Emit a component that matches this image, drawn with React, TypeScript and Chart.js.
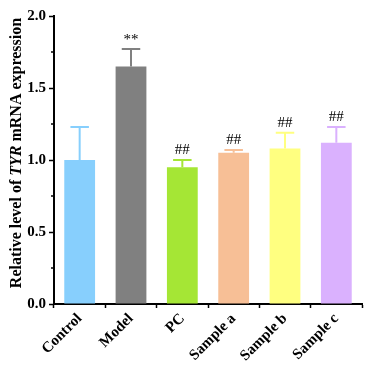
import React, { useEffect, useRef } from "react";
import { Chart, registerables } from "chart.js";

Chart.register(...registerables);

const categories = ["Control", "Model", "PC", "Sample a", "Sample b", "Sample c"];
const means = [1.0, 1.65, 0.95, 1.05, 1.08, 1.12];
const errors = [0.23, 0.12, 0.05, 0.02, 0.11, 0.11];
const marks = ["", "**", "##", "##", "##", "##"];
const colors = ["#87CFFD", "#808080", "#A5E635", "#F7BF96", "#FFFF80", "#DAB1FE"];
const yTicks = [0, 0.5, 1.0, 1.5, 2.0];
const yMinorTicks = [0.25, 0.75, 1.25, 1.75];

const SERIF = "'Liberation Serif', 'Times New Roman', serif";

const errorBarPlugin = {
  id: "errorBars",
  afterDatasetsDraw(chart: any) {
    const ctx = chart.ctx;
    const meta = chart.getDatasetMeta(0);
    const yScale = chart.scales.y;
    meta.data.forEach((bar: any, i: number) => {
      const x = bar.x;
      const yTop = yScale.getPixelForValue(means[i] + errors[i]);
      const yVal = yScale.getPixelForValue(means[i]);
      const capHalf = bar.width * 0.3;
      ctx.save();
      ctx.strokeStyle = colors[i];
      ctx.lineWidth = 2;
      ctx.beginPath();
      ctx.moveTo(x, yVal);
      ctx.lineTo(x, yTop);
      ctx.moveTo(x - capHalf, yTop);
      ctx.lineTo(x + capHalf, yTop);
      ctx.stroke();
      if (marks[i]) {
        ctx.fillStyle = "#000";
        ctx.font = `15px ${SERIF}`;
        ctx.textAlign = "center";
        ctx.textBaseline = "bottom";
        ctx.fillText(marks[i], x, yTop - 2);
      }
      ctx.restore();
    });
  },
};

const axisExtrasPlugin = {
  id: "axisExtras",
  afterDraw(chart: any) {
    const ctx = chart.ctx;
    const yScale = chart.scales.y;
    const left = chart.chartArea.left;
    ctx.save();
    ctx.strokeStyle = "#000";
    ctx.lineWidth = 1.5;
    ctx.beginPath();
    yMinorTicks.forEach((v) => {
      const y = yScale.getPixelForValue(v);
      ctx.moveTo(left - 3, y);
      ctx.lineTo(left, y);
    });
    ctx.stroke();

    // y-axis title with italic gene name
    const parts = [
      { t: "Relative level of ", f: `bold 16px ${SERIF}` },
      { t: "TYR", f: `italic bold 16px ${SERIF}` },
      { t: " mRNA expression", f: `bold 16px ${SERIF}` },
    ];
    let total = 0;
    const widths = parts.map((p) => {
      ctx.font = p.f;
      const w = ctx.measureText(p.t).width;
      total += w;
      return w;
    });
    ctx.translate(17, 153);
    ctx.rotate(-Math.PI / 2);
    ctx.fillStyle = "#000";
    ctx.textBaseline = "middle";
    ctx.textAlign = "left";
    let x = -total / 2;
    parts.forEach((p, i) => {
      ctx.font = p.f;
      ctx.fillText(p.t, x, 0);
      x += widths[i];
    });
    ctx.restore();
  },
};

export default function App() {
  const ref = useRef<HTMLCanvasElement>(null);
  useEffect(() => {
    document.body.style.margin = "0";
    const chart = new Chart(ref.current as HTMLCanvasElement, {
      type: "bar",
      data: {
        labels: categories,
        datasets: [
          {
            data: means,
            backgroundColor: colors,
            borderWidth: 0,
            barPercentage: 0.6,
            categoryPercentage: 1,
          },
        ],
      },
      options: {
        responsive: false,
        animation: false,
        devicePixelRatio: 1,
        layout: { padding: { top: 16, right: 3, left: 0, bottom: 0 } },
        plugins: { legend: { display: false }, tooltip: { enabled: false }, title: { display: false } },
        scales: {
          x: {
            afterFit: (s: any) => {
              s.height = 72;
            },
            grid: {
              display: true,
              drawOnChartArea: false,
              drawTicks: true,
              tickLength: 4,
              tickWidth: 1.5,
              tickColor: "#000",
            },
            border: { display: true, color: "#000", width: 2 },
            ticks: {
              maxRotation: 45,
              minRotation: 45,
              color: "#000",
              padding: 2,
              font: { family: SERIF, size: 15, weight: "bold" },
            },
          },
          y: {
            min: 0,
            max: 2,
            afterFit: (s: any) => {
              s.width = 54;
            },
            afterBuildTicks: (s: any) => {
              s.ticks = yTicks.map((v) => ({ value: v }));
            },
            grid: {
              display: true,
              drawOnChartArea: false,
              drawTicks: true,
              tickLength: 5,
              tickWidth: 1.5,
              tickColor: "#000",
            },
            border: { display: true, color: "#000", width: 2 },
            ticks: {
              color: "#000",
              padding: 3,
              callback: (v: any) => Number(v).toFixed(1),
              font: { family: SERIF, size: 15, weight: "bold" },
            },
          },
        },
      },
      plugins: [errorBarPlugin, axisExtrasPlugin],
    });
    return () => chart.destroy();
  }, []);
  return (
    <div style={{ width: 365, height: 376 }}>
      <canvas ref={ref} width={365} height={376} />
    </div>
  );
}
